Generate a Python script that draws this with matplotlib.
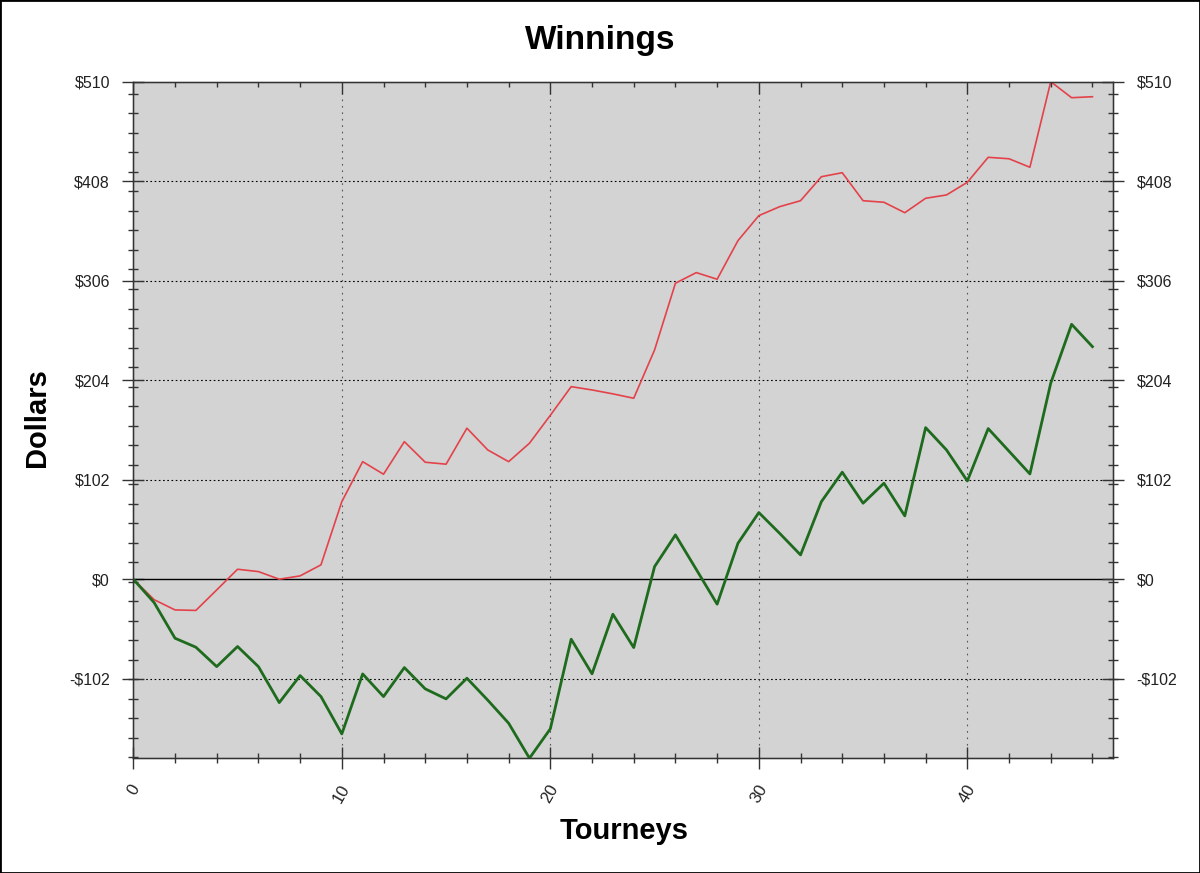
import matplotlib
matplotlib.use("Agg")
import matplotlib.pyplot as plt
from matplotlib.patches import Rectangle
import numpy as np

# ---- data ----
tourneys = list(range(47))
red_line = [0, -21, -31.5, -32, -11, 10.2, 7.8, 0, 3.4, 14.7,
            79.5, 120.5, 107.6, 141, 119.9, 117.9, 154.8, 132.5, 120.5, 139.4,
            168, 197.4, 194, 190, 185.5, 235, 303.4, 314.3, 307.5, 347.1,
            372.7, 381.9, 388, 412.6, 416.7, 388, 386.4, 375.7, 390.5, 393.9,
            406.9, 432.5, 431, 422.3, 510, 493.6, 494.6]
green_line = [0, -24, -60.5, -69.7, -89.6, -69, -89.6, -126.5, -98.8, -120.3,
              -158.6, -97.1, -120.3, -90.6, -112.4, -122.7, -101.5, -124, -147.6, -183.5,
              -153.4, -61.5, -97, -35.9, -70.1, 12.9, 45.4, 10, -25.6, 36.9,
              68.3, 47, 24.9, 79.5, 109.7, 77.9, 98.4, 64.9, 155.4, 132.5,
              100.7, 154.4, 131.2, 107.9, 201, 261.3, 238.4]
y_major = [-102, 0, 102, 204, 306, 408, 510]
y_labels = ["-$102", "$0", "$102", "$204", "$306", "$408", "$510"]
x_major = [0, 10, 20, 30, 40]
x_labels = ["0", "10", "20", "30", "40"]

plt.rcParams['font.family'] = ['Liberation Sans', 'DejaVu Sans']

fig = plt.figure(figsize=(12, 8.73), dpi=100)
ax = fig.add_axes([133.3/1200, 1-758.3/873, (1113.3-133.3)/1200, (758.3-81.7)/873])
ax.set_facecolor('#d3d3d3')

xlim = (0, 47)
ylim = (-183.6, 510)
ax.set_xlim(*xlim)
ax.set_ylim(*ylim)

# grid
for yv in y_major:
    if yv not in (0, 510):
        ax.axhline(yv, color='black', lw=0.8, linestyle=(0, (1.5, 2.3)), zorder=1)
for xv in x_major[1:]:
    ax.axvline(xv, color='#555555', lw=0.8, linestyle=(0, (1.5, 4.3)), zorder=1)
ax.axhline(0, color='black', lw=1.0, zorder=2)

ax.plot(tourneys, red_line, color='#e4424a', lw=1.2, zorder=3)
ax.plot(tourneys, green_line, color='#1e6b1e', lw=2.0, zorder=4)

spine_c = '#333333'
for s in ax.spines.values():
    s.set_color(spine_c)
    s.set_linewidth(1.0)

# left / bottom ticks
ax.set_yticks(y_major)
ax.set_yticklabels(y_labels)
ax.set_yticks(np.arange(-182.5, 510, 20), minor=True)
ax.set_xticks(x_major)
ax.set_xticklabels(x_labels, rotation=60, ha='center', va='top')
ax.set_xticks(np.arange(0, 48, 2), minor=True)
ax.tick_params(axis='y', which='major', direction='inout', length=16.5, width=1,
               color=spine_c, labelsize=11.5, labelcolor='#222222', pad=8.5)
ax.tick_params(axis='y', which='minor', direction='inout', length=7.2, width=1, color=spine_c)
ax.tick_params(axis='x', which='major', direction='inout', length=16.5, width=1,
               color=spine_c, labelsize=12, labelcolor='#222222', pad=9)
ax.tick_params(axis='x', which='minor', direction='inout', length=6.5, width=1, color=spine_c)

# right axis
axr = ax.twinx()
axr.set_ylim(*ylim)
axr.set_yticks(y_major)
axr.set_yticklabels(y_labels)
axr.set_yticks(np.arange(-182.5, 510, 20), minor=True)
axr.tick_params(axis='y', which='major', direction='inout', length=16.5, width=1,
                color=spine_c, labelsize=11.5, labelcolor='#222222', pad=8.5)
axr.tick_params(axis='y', which='minor', direction='inout', length=7.2, width=1, color=spine_c)
for s in axr.spines.values():
    s.set_color(spine_c)

# top axis
axt = ax.twiny()
axt.set_xlim(*xlim)
axt.set_xticks(x_major)
axt.set_xticklabels([])
axt.set_xticks(np.arange(0, 48, 2), minor=True)
axt.tick_params(axis='x', which='major', direction='in', length=8.5, width=1, color=spine_c)
axt.tick_params(axis='x', which='minor', direction='in', length=3.8, width=1, color=spine_c)
for s in axt.spines.values():
    s.set_color(spine_c)

fig.text(600/1200, 1-41/873, "Winnings", ha='center', va='center', fontsize=24, fontweight='bold')
fig.text(624/1200, 1-831/873, "Tourneys", ha='center', va='center', fontsize=21, fontweight='bold')
fig.text(37/1200, 1-418/873, "Dollars", ha='center', va='center', rotation=90,
         fontsize=21, fontweight='bold')

fig.patches.append(Rectangle((0, 0), 1, 1, transform=fig.transFigure, fill=False,
                             edgecolor='black', lw=2))

fig.savefig("out.png", dpi=100, facecolor='white')
